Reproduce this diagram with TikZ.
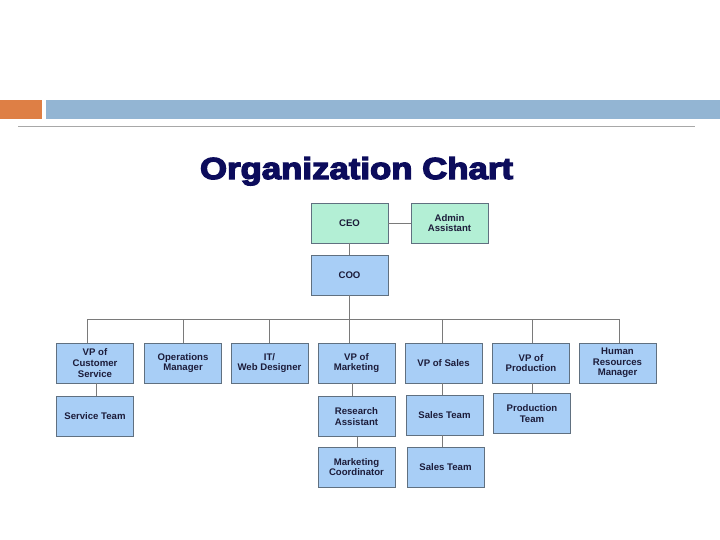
\documentclass[tikz,border=0pt]{standalone}
\usepackage{fontspec}
\setmainfont{Liberation Sans}
\newfontfamily\titlefont[FakeBold=4]{Liberation Sans Bold}
\definecolor{slideorange}{HTML}{DE7F45}
\definecolor{slideblue}{HTML}{93B5D3}
\definecolor{rulegray}{HTML}{A8A8A8}
\definecolor{titlenavy}{HTML}{0C0C5C}
\definecolor{boxgreen}{HTML}{B3EFD5}
\definecolor{boxblue}{HTML}{A8CEF6}
\definecolor{boxline}{HTML}{607080}
\definecolor{linkgray}{HTML}{7A7A7A}
\definecolor{textnavy}{HTML}{1C1C3A}
\tikzset{
  orgbox/.style={draw=boxline, line width=0.9pt, fill=boxblue, minimum width=77pt, minimum height=40pt,
    inner sep=0pt, align=center, text=textnavy, font=\fontsize{9.6}{10.6}\selectfont\bfseries},
  topbox/.style={orgbox, fill=boxgreen},
  link/.style={draw=linkgray, line width=0.8pt}
}
\begin{document}
\begin{tikzpicture}[x=1pt,y=-1pt]
\useasboundingbox (0,0) rectangle (720,540);
% slide decoration
\fill[slideorange] (0,100) rectangle (42,119);
\fill[slideblue] (46,100) rectangle (720,119);
\draw[rulegray, line width=0.8pt] (18,126) -- (695,126);
% title
\node[anchor=base, inner sep=0pt, text=titlenavy] (title) at (356.5,179)
  {\resizebox{313pt}{22pt}{\titlefont Organization Chart}};
% boxes
\node[topbox] (ceo) at (349.5,223) {CEO};
\node[topbox] (admin) at (449.5,223) {Admin\\Assistant};
\node[orgbox] (coo) at (349.5,275) {COO};
\node[orgbox] (vpcs) at (95,363) {VP of\\Customer\\Service};
\node[orgbox] (ops) at (183,363) {Operations\\Manager};
\node[orgbox] (it) at (269.5,363) {IT/\\Web Designer};
\node[orgbox] (vpm) at (356.5,363) {VP of\\Marketing};
\node[orgbox] (vps) at (443.5,363) {VP of Sales};
\node[orgbox] (vpp) at (531,363) {VP of\\Production};
\node[orgbox] (hr) at (617.5,363) {Human\\Resources\\Manager};
\node[orgbox] (st) at (95,416) {Service Team};
\node[orgbox] (ra) at (356.5,416.5) {Research\\Assistant};
\node[orgbox] (mc) at (356.5,467) {Marketing\\Coordinator};
\node[orgbox] (sa) at (444.5,415) {Sales Team};
\node[orgbox] (sb) at (445.5,467) {Sales Team};
\node[orgbox] (pt) at (532,413.5) {Production\\Team};
% connectors
\coordinate (bus) at (0,319);
\coordinate (busL) at (87,319);
\coordinate (busR) at (619,319);
\draw[link] (ceo) -- (admin);
\draw[link] ([xshift=-0.5pt]ceo.south) -- ([xshift=-0.5pt]coo.north);
\draw[link] ([xshift=-0.5pt]coo.south) -- ([xshift=-0.5pt]coo.south |- bus);
\draw[link] (busL) -- (busR);
\foreach \n/\dx in {vpcs/-8, ops/0, it/-0.5, vpm/-7.5, vps/-1.5, vpp/1, hr/1.5}{
  \draw[link] ([xshift=\dx pt]\n.north) -- ([xshift=\dx pt]\n.north |- bus);
}
\draw[link] ([xshift=1pt]vpcs.south) -- ([xshift=1pt]vpcs.south |- st.north);
\draw[link] ([xshift=-4.5pt]vpm.south) -- ([xshift=-4.5pt]vpm.south |- ra.north);
\draw[link] ([xshift=0.5pt]ra.south) -- ([xshift=0.5pt]ra.south |- mc.north);
\draw[link] ([xshift=-1.5pt]vps.south) -- ([xshift=-1.5pt]vps.south |- sa.north);
\draw[link] ([xshift=-2.5pt]sa.south) -- ([xshift=-2.5pt]sa.south |- sb.north);
\draw[link] ([xshift=1pt]vpp.south) -- ([xshift=1pt]vpp.south |- pt.north);
\end{tikzpicture}
\end{document}
